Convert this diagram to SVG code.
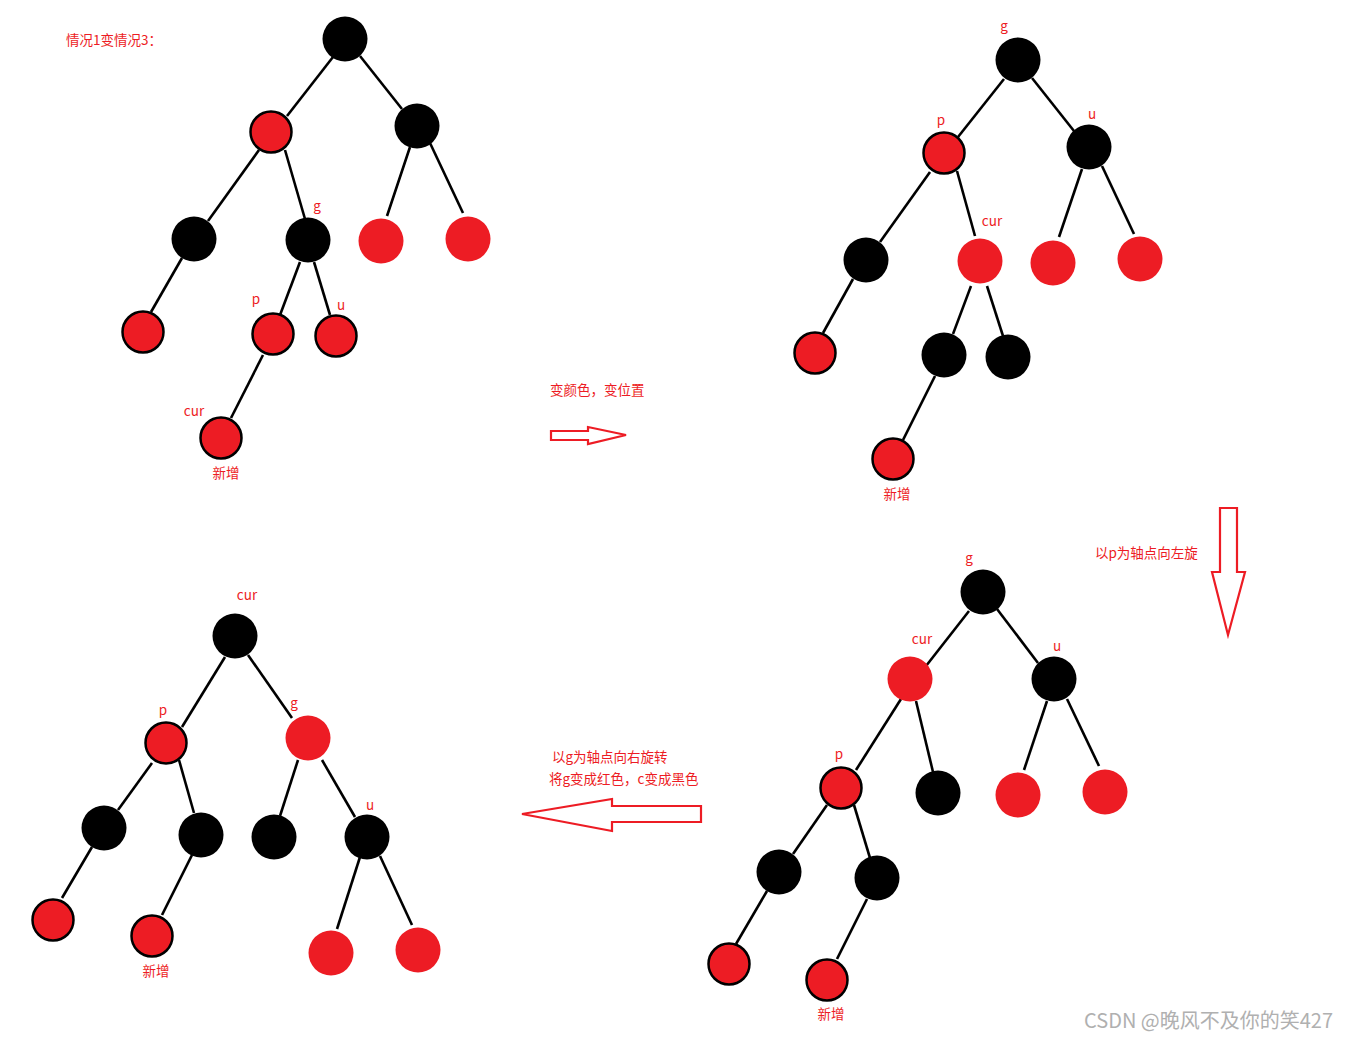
<svg xmlns="http://www.w3.org/2000/svg" width="1346" height="1040" viewBox="0 0 1346 1040">
<style>
.b{fill:#000}
.rs{fill:#ED1C24;stroke:#000;stroke-width:2.5}
.r{fill:#ED1C24}
.e line{stroke:#000;stroke-width:2.6;stroke-linecap:butt}
.t{font-family:"Noto Sans CJK SC","Microsoft YaHei",sans-serif;font-size:13.5px;fill:#ED1C24}
.l{font-family:"Noto Sans CJK SC",sans-serif;font-size:13.5px;fill:#ED1C24;text-anchor:middle}
.arr{fill:none;stroke:#ED1C24;stroke-width:2.2;stroke-linejoin:miter}
.wm{font-family:"Noto Sans CJK SC",sans-serif;font-size:20px;fill:#b0b0b0}
</style>
<rect width="1346" height="1040" fill="#fff"/>

<text class="t" x="66" y="45">情况1变情况3：</text>

<!-- Tree 1 connectors -->
<g id="edges1" class="e">
<line x1="333" y1="57" x2="287" y2="116"/>
<line x1="360" y1="56" x2="402" y2="109"/>
<line x1="259" y1="150" x2="208" y2="221"/>
<line x1="285" y1="150" x2="305" y2="219"/>
<line x1="410" y1="147" x2="387" y2="216"/>
<line x1="430" y1="143" x2="463" y2="213"/>
<line x1="182" y1="258" x2="151" y2="312"/>
<line x1="300" y1="262" x2="280" y2="315"/>
<line x1="314" y1="262" x2="330" y2="315"/>
<line x1="263" y1="355" x2="231" y2="418"/>
</g>
<g id="t1-root"><circle class="b" cx="345" cy="39" r="22.5"/></g>
<g id="t1-a"><circle class="rs" cx="271" cy="132" r="20.5"/></g>
<g id="t1-b"><circle class="b" cx="417" cy="126" r="22.5"/></g>
<g id="t1-c"><circle class="b" cx="194" cy="239" r="22.5"/></g>
<g id="t1-g"><circle class="b" cx="308" cy="240" r="22.5"/><text class="l" x="317" y="211">g</text></g>
<g id="t1-d"><circle class="r" cx="381" cy="241" r="22.5"/></g>
<g id="t1-e"><circle class="r" cx="468" cy="239" r="22.5"/></g>
<g id="t1-f"><circle class="rs" cx="143" cy="332" r="20.5"/></g>
<g id="t1-p"><circle class="rs" cx="273" cy="334" r="20.5"/><text class="l" x="256" y="304">p</text></g>
<g id="t1-u"><circle class="rs" cx="336" cy="336" r="20.5"/><text class="l" x="341" y="310">u</text></g>
<g id="t1-cur"><circle class="rs" cx="221" cy="438" r="20.5"/><text class="l" x="194" y="416">cur</text><text class="l" x="226" y="478">新增</text></g>

<!-- Arrow 1 -->
<g id="step1">
<text class="t" x="550" y="395">变颜色，变位置</text>
<polygon class="arr" points="551,431 588,431 588,427 626,435 588,444 588,440 551,440"/>
</g>

<!-- Tree 2 -->
<g id="edges2" class="e">
<line x1="1004" y1="79" x2="958" y2="137"/>
<line x1="1032" y1="78" x2="1074" y2="131"/>
<line x1="930" y1="172" x2="880" y2="242"/>
<line x1="957" y1="171" x2="975" y2="236"/>
<line x1="1082" y1="169" x2="1059" y2="237"/>
<line x1="1102" y1="166" x2="1134" y2="234"/>
<line x1="853" y1="279" x2="823" y2="333"/>
<line x1="971" y1="286" x2="953" y2="334"/>
<line x1="987" y1="286" x2="1003" y2="336"/>
<line x1="935" y1="376" x2="903" y2="440"/>
</g>
<g id="t2-g"><circle class="b" cx="1018" cy="60" r="22.5"/><text class="l" x="1004" y="31">g</text></g>
<g id="t2-p"><circle class="rs" cx="944" cy="153" r="20.5"/><text class="l" x="941" y="125">p</text></g>
<g id="t2-u"><circle class="b" cx="1089" cy="147" r="22.5"/><text class="l" x="1092" y="119">u</text></g>
<g id="t2-a"><circle class="b" cx="866" cy="260" r="22.5"/></g>
<g id="t2-cur"><circle class="r" cx="980" cy="261" r="22.5"/><text class="l" x="992" y="226">cur</text></g>
<g id="t2-b"><circle class="r" cx="1053" cy="263" r="22.5"/></g>
<g id="t2-c"><circle class="r" cx="1140" cy="259" r="22.5"/></g>
<g id="t2-d"><circle class="rs" cx="815" cy="353" r="20.5"/></g>
<g id="t2-e"><circle class="b" cx="944" cy="355" r="22.5"/></g>
<g id="t2-f"><circle class="b" cx="1008" cy="357" r="22.5"/></g>
<g id="t2-new"><circle class="rs" cx="893" cy="459" r="20.5"/><text class="l" x="897" y="499">新增</text></g>

<!-- Arrow 2 -->
<g id="step2">
<text class="t" x="1095" y="558">以p为轴点向左旋</text>
<polygon class="arr" points="1220,508 1237,508 1237,572 1245,572 1228,635 1212,572 1220,572"/>
</g>

<!-- Tree 3 -->
<g id="edges3" class="e">
<line x1="969" y1="611" x2="926" y2="666"/>
<line x1="997" y1="609" x2="1038" y2="663"/>
<line x1="901" y1="699" x2="856" y2="770"/>
<line x1="916" y1="701" x2="933" y2="772"/>
<line x1="1047" y1="701" x2="1024" y2="770"/>
<line x1="1067" y1="699" x2="1099" y2="766"/>
<line x1="827" y1="805" x2="793" y2="854"/>
<line x1="854" y1="805" x2="870" y2="858"/>
<line x1="767" y1="891" x2="736" y2="944"/>
<line x1="867" y1="899" x2="837" y2="959"/>
</g>
<g id="t3-g"><circle class="b" cx="983" cy="592" r="22.5"/><text class="l" x="969" y="563">g</text></g>
<g id="t3-cur"><circle class="r" cx="910" cy="679" r="22.5"/><text class="l" x="922" y="644">cur</text></g>
<g id="t3-u"><circle class="b" cx="1054" cy="679" r="22.5"/><text class="l" x="1057" y="651">u</text></g>
<g id="t3-p"><circle class="rs" cx="841" cy="788" r="20.5"/><text class="l" x="839" y="759">p</text></g>
<g id="t3-a"><circle class="b" cx="938" cy="793" r="22.5"/></g>
<g id="t3-b"><circle class="r" cx="1018" cy="795" r="22.5"/></g>
<g id="t3-c"><circle class="r" cx="1105" cy="792" r="22.5"/></g>
<g id="t3-d"><circle class="b" cx="779" cy="872" r="22.5"/></g>
<g id="t3-e"><circle class="b" cx="877" cy="878" r="22.5"/></g>
<g id="t3-f"><circle class="rs" cx="729" cy="964" r="20.5"/></g>
<g id="t3-new"><circle class="rs" cx="827" cy="980" r="20.5"/><text class="l" x="831" y="1019">新增</text></g>

<!-- Arrow 3 -->
<g id="step3">
<text class="t" x="552" y="762">以g为轴点向右旋转</text>
<text class="t" x="549" y="784">将g变成红色，c变成黑色</text>
<polygon class="arr" points="522,814 612,799 612,806 701,806 701,822 612,822 612,831"/>
</g>

<!-- Tree 4 -->
<g id="edges4" class="e">
<line x1="225" y1="657" x2="182" y2="727"/>
<line x1="248" y1="655" x2="292" y2="718"/>
<line x1="152" y1="763" x2="118" y2="810"/>
<line x1="179" y1="760" x2="194" y2="813"/>
<line x1="298" y1="760" x2="280" y2="816"/>
<line x1="322" y1="760" x2="355" y2="817"/>
<line x1="92" y1="847" x2="62" y2="898"/>
<line x1="192" y1="855" x2="162" y2="915"/>
<line x1="360" y1="857" x2="337" y2="929"/>
<line x1="380" y1="856" x2="412" y2="925"/>
</g>
<g id="t4-cur"><circle class="b" cx="235" cy="636" r="22.5"/><text class="l" x="247" y="600">cur</text></g>
<g id="t4-p"><circle class="rs" cx="166" cy="743" r="20.5"/><text class="l" x="163" y="715">p</text></g>
<g id="t4-g"><circle class="r" cx="308" cy="738" r="22.5"/><text class="l" x="294" y="708">g</text></g>
<g id="t4-a"><circle class="b" cx="104" cy="828" r="22.5"/></g>
<g id="t4-b"><circle class="b" cx="201" cy="835" r="22.5"/></g>
<g id="t4-c"><circle class="b" cx="274" cy="837" r="22.5"/></g>
<g id="t4-u"><circle class="b" cx="367" cy="837" r="22.5"/><text class="l" x="370" y="810">u</text></g>
<g id="t4-d"><circle class="rs" cx="53" cy="920" r="20.5"/></g>
<g id="t4-new"><circle class="rs" cx="152" cy="936" r="20.5"/><text class="l" x="156" y="976">新增</text></g>
<g id="t4-e"><circle class="r" cx="331" cy="953" r="22.5"/></g>
<g id="t4-f"><circle class="r" cx="418" cy="950" r="22.5"/></g>

<text class="wm" x="1084" y="1028">CSDN @晚风不及你的笑427</text>
</svg>
